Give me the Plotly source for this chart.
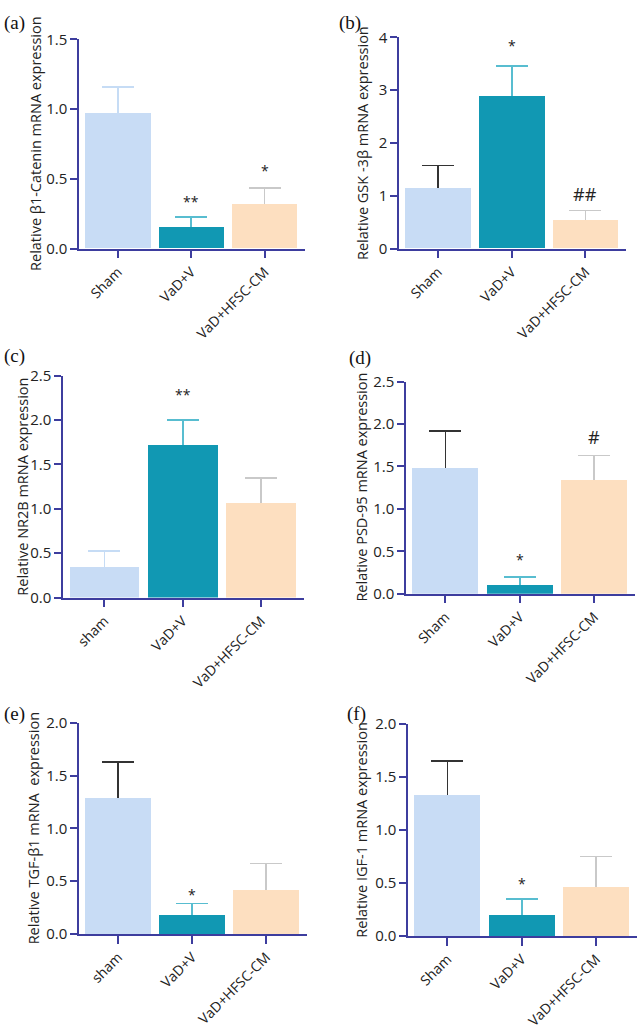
import plotly.graph_objects as go

# ---------------- data ----------------
groups_a = ["Sham", "VaD+V", "VaD+HFSC-CM"]
means_a = [0.97, 0.155, 0.315]
errs_a = [0.19, 0.072, 0.12]
sig_a = ["", "**", "*"]

groups_b = ["Sham", "VaD+V", "VaD+HFSC-CM"]
means_b = [1.14, 2.89, 0.53]
errs_b = [0.43, 0.57, 0.19]
sig_b = ["", "*", "##"]

groups_c = ["sham", "VaD+V", "VaD+HFSC-CM"]
means_c = [0.35, 1.72, 1.066]
errs_c = [0.176, 0.28, 0.284]
sig_c = ["", "**", ""]

groups_d = ["Sham", "VaD+V", "VaD+HFSC-CM"]
means_d = [1.485, 0.104, 1.346]
errs_d = [0.435, 0.096, 0.284]
sig_d = ["", "*", "#"]

groups_e = ["sham", "VaD+V", "VaD+HFSC-CM"]
means_e = [1.29, 0.185, 0.415]
errs_e = [0.34, 0.105, 0.253]
sig_e = ["", "*", ""]

groups_f = ["Sham", "VaD+V", "VaD+HFSC-CM"]
means_f = [1.33, 0.203, 0.46]
errs_f = [0.32, 0.145, 0.29]
sig_f = ["", "*", ""]

titles = [
    "Relative β1-Catenin mRNA expression",
    "Relative GSK -3β mRNA expression",
    "Relative NR2B mRNA expression",
    "Relative PSD-95 mRNA expression",
    "Relative TGF-β1 mRNA\u00a0 expression",
    "Relative IGF-1 mRNA expression",
]
panel_letters = ["(a)", "(b)", "(c)", "(d)", "(e)", "(f)"]
y_max = [1.5, 4, 2.5, 2.5, 2.0, 2.0]
y_dtick = [0.5, 1, 0.5, 0.5, 0.5, 0.5]
y_fmt = [".1f", "d", ".1f", ".1f", ".1f", ".1f"]

# ---------------- style ----------------
W, H = 640, 1030
bar_colors = ["#c8dcf5", "#1198b3", "#fddfc0"]
axis_color = "#3d3d9e"
tick_font = dict(family="Open Sans", size=15, color="#222222")
cat_font = dict(family="Open Sans", size=14, color="#222222")
sham_err_light = "#c6dcf5"
sham_err_dark = "#333333"
err_colors = [
    [sham_err_light, "#58bdd0", "#c9c9c9"],
    [sham_err_dark, "#58bdd0", "#c9c9c9"],
    [sham_err_light, "#58bdd0", "#c9c9c9"],
    [sham_err_dark, "#58bdd0", "#c9c9c9"],
    [sham_err_dark, "#58bdd0", "#c9c9c9"],
    [sham_err_dark, "#58bdd0", "#c9c9c9"],
]
# plot-area boxes in pixels: (left, right, top, bottom)
boxes = [
    (79, 305, 29, 243),
    (399, 626, 27, 243),
    (63, 304, 373, 600),
    (406, 635, 379, 596),
    (79, 307, 728, 944),
    (408, 637, 729, 946),
]
title_x = [36, 363, 23, 362, 33, 362]
letter_pos = [(2, 12), (337, 12), (2, 353), (347, 355), (2, 719), (345, 719)]
sig_shift = [[0, 19, 21], [0, 24, 17], [0, 30, 0], [0, 21, 18], [0, 13, 0], [0, 19, 0]]

panels = [
    (groups_a, means_a, errs_a, sig_a),
    (groups_b, means_b, errs_b, sig_b),
    (groups_c, means_c, errs_c, sig_c),
    (groups_d, means_d, errs_d, sig_d),
    (groups_e, means_e, errs_e, sig_e),
    (groups_f, means_f, errs_f, sig_f),
]

fig = go.Figure()
annotations = []
layout_axes = {}
BAR_W = 0.89

for p, (cats, means, errs, sigs) in enumerate(panels):
    n = p + 1
    xa = "x" if n == 1 else f"x{n}"
    ya = "y" if n == 1 else f"y{n}"
    # invisible carriers for the upper error bars (drawn first; the lower,
    # hidden end of each whisker sits inside the bar that is drawn over it)
    for i, c in enumerate(cats):
        fig.add_trace(go.Bar(
            x=[c], y=[means[i]], width=BAR_W, xaxis=xa, yaxis=ya,
            marker=dict(color="rgba(0,0,0,0)", line=dict(width=0)),
            error_y=dict(type="data", symmetric=False, array=[errs[i]],
                         arrayminus=[means[i] / 2], color=err_colors[p][i],
                         thickness=1.6, width=16),
            showlegend=False, hoverinfo="skip"))
    fig.add_trace(go.Bar(
        x=cats, y=means, width=BAR_W, xaxis=xa, yaxis=ya,
        marker=dict(color=bar_colors, line=dict(width=0)),
        showlegend=False))

    l, r, t, b = boxes[p]
    xkey = "xaxis" if n == 1 else f"xaxis{n}"
    ykey = "yaxis" if n == 1 else f"yaxis{n}"
    layout_axes[xkey] = dict(
        domain=[l / W, r / W], anchor=ya, type="category",
        categoryorder="array", categoryarray=cats,
        range=[-0.53, 2.55], showline=True, linecolor=axis_color, linewidth=1.5,
        ticks="outside", ticklen=8, tickwidth=1.5, tickcolor=axis_color,
        tickangle=-45, tickfont=cat_font, showgrid=False, zeroline=False,
        fixedrange=True)
    layout_axes[ykey] = dict(
        domain=[1 - b / H, 1 - t / H], anchor=xa,
        range=[0, y_max[p]], dtick=y_dtick[p], tick0=0, tickformat=y_fmt[p],
        showline=True, linecolor=axis_color, linewidth=1.5,
        ticks="outside", ticklen=7, tickwidth=1.5, tickcolor=axis_color,
        tickfont=tick_font, showgrid=False, zeroline=False, fixedrange=True)

    # y-axis title
    annotations.append(dict(
        text=titles[p], xref="paper", yref="paper",
        x=title_x[p] / W, y=1 - (t + b) / 2 / H, textangle=-90,
        showarrow=False, xanchor="center", yanchor="middle",
        font=dict(family="Open Sans", size=14.5, color="#222222")))
    # panel letter
    lx, ly = letter_pos[p]
    annotations.append(dict(
        text=panel_letters[p], xref="paper", yref="paper",
        x=lx / W, y=1 - ly / H, showarrow=False, xanchor="left", yanchor="middle",
        font=dict(family="Liberation Serif", size=19, color="#111111")))
    # significance marks
    for i, s in enumerate(sigs):
        if not s:
            continue
        is_star = "*" in s
        annotations.append(dict(
            text=s, xref=xa, yref=ya, x=cats[i], y=means[i] + errs[i],
            showarrow=False, xanchor="center", yanchor="middle",
            yshift=sig_shift[p][i] - (4 if is_star else 0),
            font=dict(family="Open Sans", size=14 if is_star else 18, color="#222222")))

fig.update_layout(
    width=W, height=H, margin=dict(l=0, r=0, t=0, b=0),
    paper_bgcolor="white", plot_bgcolor="white",
    barmode="overlay", bargap=0, annotations=annotations, **layout_axes)

fig.write_html("out.html", config={"displayModeBar": False},
               post_script="document.body.style.margin='0';document.body.style.overflow='hidden';")
